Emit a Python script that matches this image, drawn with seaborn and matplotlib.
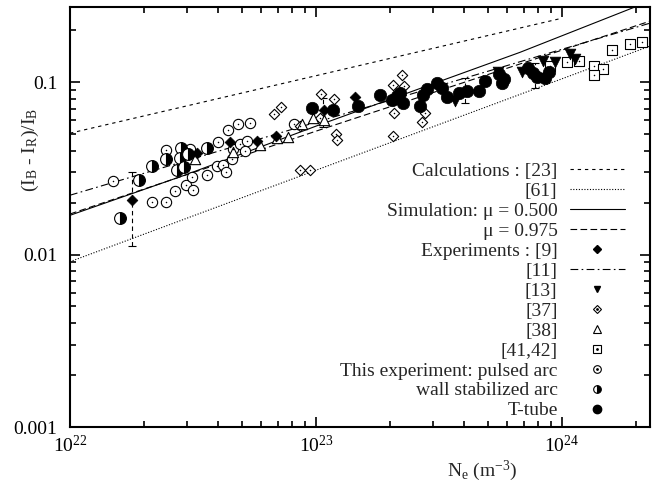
import matplotlib

matplotlib.use("Agg")

import matplotlib.pyplot as plt
import seaborn as sns
from matplotlib.lines import Line2D
from matplotlib.ticker import FixedLocator, FixedFormatter, LogLocator, NullFormatter

# model / reference curves (N_e in m^-3, ratio (I_B - I_R)/I_B)
calc23_ne = [1e22, 1e24]
calc23_ratio = [0.0506, 0.235]
ref61_ne = [1e22, 2.28e24]
ref61_ratio = [0.0091, 0.162]
sim050_ne = [1e22, 2.93e22, 1e23, 6.75e23, 1.98e24]
sim050_ratio = [0.0169, 0.0289, 0.0556, 0.149, 0.273]
sim0975_ne = [1e22, 1e23, 2.28e24]
sim0975_ratio = [0.0172, 0.052, 0.226]
ref11_ne = [1e22, 2.28e24]
ref11_ratio = [0.0221, 0.22]

# experiments
exp9_ne = [1.79e22, 3.28e22, 4.47e22, 5.75e22, 6.88e22, 1.08e23, 1.44e23]
exp9_ratio = [0.0207, 0.0387, 0.0449, 0.0455, 0.0487, 0.0689, 0.0818]
exp13_ne = [3.67e23, 5.49e23, 6.88e23, 8.37e23, 9.37e23, 1.08e24, 1.13e24]
exp13_ratio = [0.0776, 0.114, 0.114, 0.1324, 0.1305, 0.145, 0.136]
exp37_ne = [6.75e22, 7.21e22, 8.61e22, 9.46e22, 1.05e23, 1.18e23, 1.21e23, 1.22e23, 1.04e23,
            2.06e23, 2.24e23, 2.28e23, 2.08e23, 2.06e23, 2.70e23, 2.77e23, 8.61e22]
exp37_ratio = [0.0652, 0.0716, 0.0309, 0.0309, 0.0852, 0.0796, 0.050, 0.0461, 0.0618,
               0.0961, 0.110, 0.0948, 0.0661, 0.0487, 0.0586, 0.0661, 0.0556]
exp38_ne = [3.22e22, 4.60e22, 5.92e22, 6.94e22, 7.69e22, 8.77e22, 9.72e22, 1.08e23]
exp38_ratio = [0.0358, 0.0393, 0.0431, 0.0473, 0.048, 0.0571, 0.0618, 0.0602]
exp4142_ne = [8.94e23, 1.05e24, 1.17e24, 1.35e24, 1.47e24, 1.35e24, 1.60e24, 1.89e24, 2.12e24]
exp4142_ratio = [0.124, 0.1305, 0.1324, 0.124, 0.119, 0.110, 0.1534, 0.166, 0.1705]

# this experiment
pulsed_ne = [1.50e22, 2.15e22, 2.46e22, 2.67e22, 2.96e22, 3.16e22, 3.13e22, 3.61e22, 2.46e22,
             3.07e22, 4.00e22, 4.39e22, 4.82e22, 5.39e22, 3.96e22, 4.19e22, 4.31e22, 4.56e22,
             4.60e22, 4.91e22, 5.24e22, 5.15e22, 8.14e22]
pulsed_ratio = [0.0267, 0.0201, 0.0201, 0.0233, 0.0253, 0.0237, 0.0281, 0.0289, 0.0404,
                0.0409, 0.0449, 0.0527, 0.0571, 0.0578, 0.0326, 0.033, 0.030, 0.0358,
                0.0409, 0.0437, 0.0455, 0.0398, 0.0571]
wall_ne = [1.60e22, 1.91e22, 2.15e22, 2.46e22, 2.83e22, 2.80e22, 2.72e22, 2.91e22, 3.02e22, 3.61e22]
wall_ratio = [0.0163, 0.027, 0.0326, 0.0358, 0.0414, 0.0362, 0.0309, 0.0322, 0.0383, 0.0414]
ttube_ne = [9.64e22, 1.17e23, 1.48e23, 1.82e23, 2.04e23, 2.13e23, 2.19e23, 2.26e23, 2.65e23,
            2.72e23, 2.83e23, 3.10e23, 3.25e23, 3.41e23, 3.81e23, 4.11e23, 4.60e23, 4.86e23,
            5.54e23, 5.81e23, 5.70e23, 7.28e23, 7.62e23, 7.91e23, 8.53e23, 8.85e23]
ttube_ratio = [0.0706, 0.0689, 0.0726, 0.0841, 0.0787, 0.0829, 0.0863, 0.0755, 0.0726,
               0.0841, 0.091, 0.0987, 0.0923, 0.0818, 0.0863, 0.0887, 0.0887, 0.1013,
               0.111, 0.104, 0.0987, 0.1205, 0.1127, 0.107, 0.1054, 0.1143]

# error bars
err_ne = [1.79e22, 1.07e23, 4.04e23, 7.77e23]
err_ratio = [0.0207, 0.0679, 0.0905, 0.1105]
err_size = [0.0095, 0.0128, 0.015, 0.018]

sns.set_theme(style="ticks")
plt.rcParams["font.family"] = ["Liberation Serif", "DejaVu Serif"]
plt.rcParams["mathtext.fontset"] = "custom"
plt.rcParams["mathtext.rm"] = "Liberation Serif"
plt.rcParams["mathtext.it"] = "Liberation Serif:italic"

fig = plt.figure(figsize=(6.58, 4.83), dpi=100)
ax = fig.add_axes([70 / 658, 1 - 427 / 483, 580 / 658, 420 / 483])
ax.set_xscale("log")
ax.set_yscale("log")

line_kw = dict(color="black", lw=0.8, legend=False, estimator=None, sort=False)
sns.lineplot(x=calc23_ne, y=calc23_ratio, ax=ax, linestyle=(0, (3, 3.5)), **line_kw)
sns.lineplot(x=ref61_ne, y=ref61_ratio, ax=ax, linestyle=(0, (1, 1.5)), **line_kw)
sns.lineplot(x=sim050_ne, y=sim050_ratio, ax=ax, linestyle="-", **line_kw)
sns.lineplot(x=sim0975_ne, y=sim0975_ratio, ax=ax, linestyle=(0, (6, 3)), **line_kw)
sns.lineplot(x=ref11_ne, y=ref11_ratio, ax=ax, linestyle=(0, (7, 3, 1.5, 3)), **line_kw)

eb = ax.errorbar(err_ne, err_ratio, yerr=err_size, fmt="none", ecolor="black",
                 elinewidth=0.8, capsize=3, capthick=0.8, zorder=2)
eb[2][0].set_linestyle((0, (4, 3)))


def open_dotted(x, y, marker, size):
    sns.scatterplot(x=x, y=y, ax=ax, marker=marker, s=size, facecolor="white",
                    edgecolor="black", linewidth=0.8, zorder=3, legend=False)
    sns.scatterplot(x=x, y=y, ax=ax, marker="o", s=1.2, color="black",
                    edgecolor="black", linewidth=0, zorder=4, legend=False)


open_dotted(pulsed_ne, pulsed_ratio, "o", 55)
open_dotted(exp37_ne, exp37_ratio, "D", 28)
open_dotted(exp4142_ne, exp4142_ratio, "s", 60)
sns.scatterplot(x=exp38_ne, y=exp38_ratio, ax=ax, marker="^", s=55, facecolor="white",
                edgecolor="black", linewidth=0.8, zorder=3, legend=False)
sns.scatterplot(x=exp9_ne, y=exp9_ratio, ax=ax, marker="D", s=30, color="black",
                edgecolor="black", linewidth=0.5, zorder=4, legend=False)
sns.scatterplot(x=exp13_ne, y=exp13_ratio, ax=ax, marker="v", s=60, color="black",
                edgecolor="black", linewidth=0.5, zorder=4, legend=False)
sns.scatterplot(x=ttube_ne, y=ttube_ratio, ax=ax, marker="o", s=80, color="black",
                edgecolor="black", linewidth=0.5, zorder=4, legend=False)
ax.plot(wall_ne, wall_ratio, ls="none", marker="o", ms=8.5, fillstyle="right",
        mfc="black", mfcalt="white", mec="black", mew=0.8, zorder=4)

ax.set_xlim(1e22, 2.28e24)
ax.set_ylim(0.001, 0.273)

ax.xaxis.set_major_locator(FixedLocator([1e22, 1e23, 1e24]))
ax.xaxis.set_major_formatter(FixedFormatter([r"$10^{22}$", r"$10^{23}$", r"$10^{24}$"]))
ax.xaxis.set_minor_locator(LogLocator(base=10, subs=range(2, 10), numticks=20))
ax.xaxis.set_minor_formatter(NullFormatter())
ax.yaxis.set_major_locator(FixedLocator([0.001, 0.01, 0.1]))
ax.yaxis.set_major_formatter(FixedFormatter(["0.001", "0.01", "0.1"]))
ax.yaxis.set_minor_locator(LogLocator(base=10, subs=range(2, 10), numticks=20))
ax.yaxis.set_minor_formatter(NullFormatter())

ax.tick_params(which="both", direction="in", top=True, right=True, width=1.2, colors="black")
ax.tick_params(which="major", length=7, labelsize=14)
ax.tick_params(axis="y", which="major", pad=9)
ax.tick_params(axis="x", which="major", pad=6)
ax.tick_params(which="minor", length=4)
for spine in ax.spines.values():
    spine.set_linewidth(1.5)
    spine.set_color("black")

ax.set_xlabel(r"N$_\mathrm{e}$ (m$^{-3}$)", fontsize=14)
ax.set_ylabel(r"(I$_\mathrm{B}$ - I$_\mathrm{R}$)/I$_\mathrm{B}$", fontsize=14)
ax.xaxis.set_label_coords((482 - 70) / 580, -0.075)
ax.yaxis.set_label_coords(-0.05, (427 - 150) / 420)

dot = dict(ls="none", marker="o", ms=1, color="black")
handles = [
    Line2D([], [], color="black", lw=0.8, ls=(0, (3, 3.5))),
    Line2D([], [], color="black", lw=0.8, ls=(0, (1, 1.5))),
    Line2D([], [], color="black", lw=0.8, ls="-"),
    Line2D([], [], color="black", lw=0.8, ls=(0, (6, 3))),
    Line2D([], [], ls="none", marker="D", ms=4.5, color="black"),
    Line2D([], [], color="black", lw=0.8, ls=(0, (7, 3, 1.5, 3))),
    Line2D([], [], ls="none", marker="v", ms=5, color="black"),
    (Line2D([], [], ls="none", marker="D", ms=4.5, mfc="white", mec="black", mew=0.8), Line2D([], [], **dot)),
    Line2D([], [], ls="none", marker="^", ms=5.5, mfc="white", mec="black", mew=0.8),
    (Line2D([], [], ls="none", marker="s", ms=5.5, mfc="white", mec="black", mew=0.8), Line2D([], [], **dot)),
    (Line2D([], [], ls="none", marker="o", ms=5.5, mfc="white", mec="black", mew=0.8), Line2D([], [], **dot)),
    Line2D([], [], ls="none", marker="o", ms=5.5, fillstyle="right", mfc="black", mfcalt="white",
           mec="black", mew=0.8),
    Line2D([], [], ls="none", marker="o", ms=6, color="black"),
]
labels = [
    "Calculations : [23]", "[61]", "Simulation: \u03bc = 0.500", "\u03bc = 0.975",
    "Experiments : [9]", "[11]", "[13]", "[37]", "[38]", "[41,42]",
    "This experiment: pulsed arc", "wall stabilized arc", "T-tube",
]
ax.legend(handles, labels, loc="lower right", bbox_to_anchor=(0.957, 0.018),
          markerfirst=False, frameon=False, fontsize=14, handlelength=2.85,
          handletextpad=0.62, labelspacing=0.12, borderpad=0, borderaxespad=0)

fig.savefig("out.png", dpi=100, facecolor="white")
